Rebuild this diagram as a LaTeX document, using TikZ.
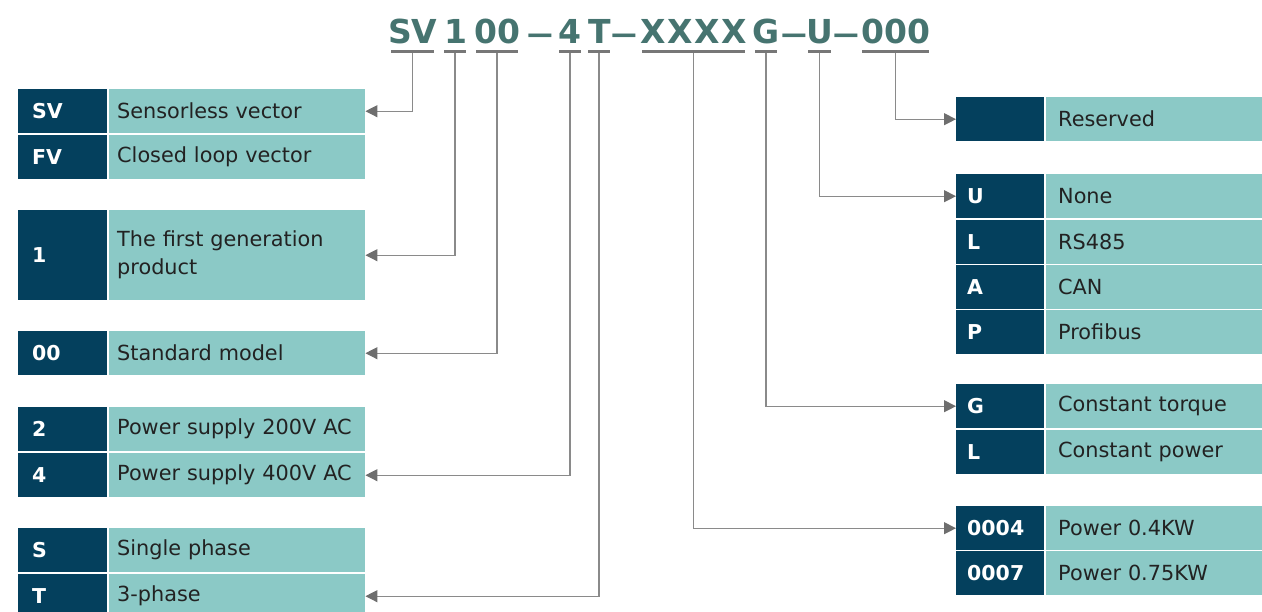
\documentclass[tikz,border=0pt]{standalone}
\usepackage{fontspec}
\setmainfont{DejaVu Sans}
\usetikzlibrary{arrows.meta}
\definecolor{navy}{HTML}{04405D}
\definecolor{boxlight}{HTML}{8BC9C6}
\definecolor{codecol}{HTML}{467470}
\definecolor{conncol}{HTML}{8A8A8A}
\definecolor{tipcol}{HTML}{6E6E6E}
\definecolor{ulcol}{HTML}{777777}
\definecolor{txt}{HTML}{222222}
\newcommand{\cdash}{\scalebox{0.78}[0.85]{—}}
\begin{document}
\begin{tikzpicture}[x=1pt,y=-1pt,
  dk/.style={fill=navy, text=white, font=\bfseries\fontsize{20.5}{24}\selectfont, anchor=north west, minimum height=44pt, inner ysep=0pt, inner xsep=14pt, text width=61pt, align=left},
  lt/.style={fill=boxlight, text=txt, font=\fontsize{20.8}{28}\selectfont, anchor=north west, minimum height=44pt, inner ysep=0pt, inner xsep=8pt, text width=240pt, align=left},
  rdk/.style={dk, inner xsep=11pt, text width=66pt},
  rlt/.style={lt, inner xsep=12pt, text width=192pt},
  code/.style={font=\bfseries\fontsize{33}{38}\selectfont, text=codecol, anchor=base, inner sep=0pt},
  ul/.style={fill=ulcol, minimum height=3pt, inner sep=0pt, anchor=center},
  conn/.style={draw=conncol, line width=1.2pt, -{Triangle[length=12pt,width=12pt,color=tipcol,fill=tipcol]}}
]
\useasboundingbox (0,0) rectangle (1262,611);

% code letters
\node[code] (cS) at (400,43) {S};
\node[code] (cV) at (424,43) {V};
\node[code] (c1) at (456,43) {1};
\node[code] (c0a) at (486,43) {0};
\node[code] (c0b) at (509,43) {0};
\node[code] (d1) at (540,43) {\cdash};
\node[code] (c4) at (570,43) {4};
\node[code] (cT) at (600,43) {T};
\node[code] (d2) at (624,43) {\cdash};
\node[code] (cX1) at (653,43) {X};
\node[code] (cX2) at (680,43) {X};
\node[code] (cX3) at (707,43) {X};
\node[code] (cX4) at (734,43) {X};
\node[code] (cG) at (766,43) {G};
\node[code] (d3) at (794,43) {\cdash};
\node[code] (cU) at (820,43) {U};
\node[code] (d4) at (846,43) {\cdash};
\node[code] (cZ1) at (873,43) {0};
\node[code] (cZ2) at (896,43) {0};
\node[code] (cZ3) at (919,43) {0};

% underlines
\node[ul, minimum width=43pt] (uSV) at (412.5,51) {};
\node[ul, minimum width=22pt] (u1) at (455,51) {};
\node[ul, minimum width=42pt] (u00) at (497,51) {};
\node[ul, minimum width=22pt] (u4) at (570,51) {};
\node[ul, minimum width=22pt] (uT) at (599,51) {};
\node[ul, minimum width=103pt] (uX) at (693.5,51) {};
\node[ul, minimum width=22pt] (uG) at (766,51) {};
\node[ul, minimum width=23pt] (uU) at (819.5,51) {};
\node[ul, minimum width=67pt] (uZ) at (895.5,51) {};

% left boxes
\node[dk] (svk) at (18,89) {SV};
\node[lt] (svd) at (109,89) {Sensorless vector};
\node[dk] (fvk) at (18,135) {FV};
\node[lt] (fvd) at (109,135) {Closed loop vector};
\node[dk, minimum height=90pt] (gk) at (18,210) {1};
\node[lt, minimum height=90pt] (gd) at (109,210) {The first generation\\product};
\node[dk] (stk) at (18,331) {00};
\node[lt] (std) at (109,331) {Standard model};
\node[dk] (p2k) at (18,407) {2};
\node[lt] (p2d) at (109,407) {Power supply 200V AC};
\node[dk] (p4k) at (18,453) {4};
\node[lt] (p4d) at (109,453) {Power supply 400V AC};
\node[dk] (sk) at (18,528) {S};
\node[lt] (sd) at (109,528) {Single phase};
\node[dk] (tk) at (18,574) {T};
\node[lt] (td) at (109,574) {3-phase};

% right boxes
\node[rdk] (rk) at (956,97) {};
\node[rlt] (rd) at (1046,97) {Reserved};
\node[rdk] (uk) at (956,174) {U};
\node[rlt] (ud) at (1046,174) {None};
\node[rdk] (lk) at (956,220) {L};
\node[rlt] (ld) at (1046,220) {RS485};
\node[rdk] (ak) at (956,265) {A};
\node[rlt] (ad) at (1046,265) {CAN};
\node[rdk] (pk) at (956,310) {P};
\node[rlt] (pd) at (1046,310) {Profibus};
\node[rdk] (gqk) at (956,384) {G};
\node[rlt] (gqd) at (1046,384) {Constant torque};
\node[rdk] (lpk) at (956,430) {L};
\node[rlt] (lpd) at (1046,430) {Constant power};
\node[rdk] (w4k) at (956,506) {0004};
\node[rlt] (w4d) at (1046,506) {Power 0.4KW};
\node[rdk] (w7k) at (956,551) {0007};
\node[rlt] (w7d) at (1046,551) {Power 0.75KW};

% connectors
\draw[conn] (uSV.south) |- (svd.east);
\draw[conn] (u1.south) |- (gd.east);
\draw[conn] (u00.south) |- (std.east);
\draw[conn] (u4.south) |- (p4d.east);
\draw[conn] (uT.south) |- (td.east);
\draw[conn] (uX.south) |- (w4k.west);
\draw[conn] (uG.south) |- (gqk.west);
\draw[conn] (uU.south) |- (uk.west);
\draw[conn] (uZ.south) |- (rk.west);
\end{tikzpicture}
\end{document}
